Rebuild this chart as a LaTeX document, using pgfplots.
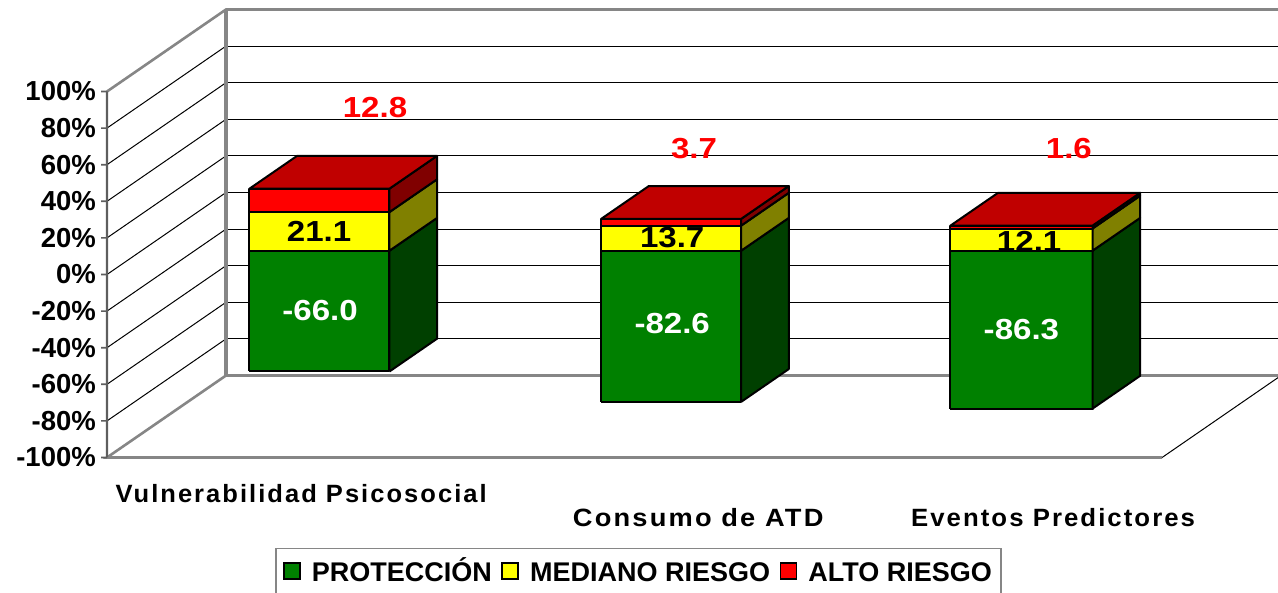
\documentclass[border=0pt]{standalone}
\usepackage{fontspec}
\setmainfont{Liberation Sans}
\newfontfamily\catfont[LetterSpace=8]{Liberation Sans}
\usepackage{pgfplots}
\pgfplotsset{compat=1.18}
\definecolor{gverde}{HTML}{008000}
\definecolor{gverdeo}{HTML}{004000}
\definecolor{gamar}{HTML}{FFFF00}
\definecolor{gamaro}{HTML}{808000}
\definecolor{grojo}{HTML}{FF0000}
\definecolor{grojoo}{HTML}{800000}
\definecolor{grojot}{HTML}{C00000}
\definecolor{marco}{HTML}{868686}
\definecolor{marcoo}{HTML}{5E5E5E}
% one stacked piece: x0, x1, z0, z1, front colour, side colour
\newcommand{\seg}[6]{%
  \addplot3[barface,fill=#5] coordinates {(#1,0.29,#3) (#2,0.29,#3) (#2,0.29,#4) (#1,0.29,#4) (#1,0.29,#3)};
  \addplot3[barface,fill=#6] coordinates {(#2,0.29,#3) (#2,0.69,#3) (#2,0.69,#4) (#2,0.29,#4) (#2,0.29,#3)};
}
\newcommand{\tapa}[3]{%
  \addplot3[barface,fill=grojot] coordinates {(#1,0.29,#3) (#2,0.29,#3) (#2,0.69,#3) (#1,0.69,#3) (#1,0.29,#3)};
}
% tick on the front edge, as a thin filled strip
\newcommand{\marca}[1]{%
  \addplot3[forget plot,no marks,draw=none,fill=marcoo] coordinates {(-0.017,0,#1-0.45) (0,0,#1-0.45) (0,0,#1+0.45) (-0.017,0,#1+0.45) (-0.017,0,#1-0.45)};
}
\pgfplotsset{
  barface/.style={forget plot,no marks,draw=black,line width=2pt,line join=round},
  muro/.style={forget plot,no marks,draw=marco,line width=2.6pt},
  fina/.style={forget plot,no marks,draw=black,line width=1pt},
  cuadro/.style={legend image code/.code={\draw[##1,line width=1.8pt] (0pt,-8pt) rectangle (16pt,8pt);}},
}
\begin{document}
\begin{tikzpicture}
\clip (-107pt,-318.5pt) rectangle (1171pt,274.5pt);
\begin{axis}[
  at={(0pt,0pt)}, anchor=origin,
  x={(351.7pt,0pt)}, y={(119pt,82pt)}, z={(0pt,1.83pt)},
  xmin=0, xmax=3, ymin=0, ymax=1, zmin=-100, zmax=100,
  xtick=\empty, ytick=\empty,
  ztick={-100,-80,-60,-40,-20,0,20,40,60,80,100},
  zticklabels={-100\%,-80\%,-60\%,-40\%,-20\%,0\%,20\%,40\%,60\%,80\%,100\%},
  zticklabel pos=left,
  zticklabel style={font=\fontsize{27.5}{28}\selectfont\bfseries,anchor=east,inner sep=0pt,xshift=-11pt,yshift=0pt},
  zmajorgrids,
  grid style={black,line width=1pt},
  axis line style={draw=none},
  major tick length=0pt,
  tick style={draw=none},
  clip=false,
  legend columns=3,
  legend cell align=left,
  legend style={at={(0.4527,-0.2009)},anchor=north,draw=marco,line width=1.6pt,
    font=\fontsize{27}{28}\selectfont\bfseries,inner xsep=7pt,inner ysep=8pt,
    nodes={text height=23pt,text depth=2pt},
    /tikz/every odd column/.append style={column sep=9pt},
    /tikz/every even column/.append style={column sep=7.5pt}},
]
% walls and floor
\addplot3[muro] coordinates {(0,0,100) (0,1,100) (3,1,100)};
\addplot3[muro,line width=3.2pt] coordinates {(0,1,100) (0,1,-100) (3,1,-100)};
\addplot3[muro] coordinates {(0,1,-100) (0,0,-100) (3,0,-100)};
\addplot3[fina] coordinates {(3,0,-100) (3,1,-100)};
% front edge and its ticks
\addplot3[forget plot,no marks,draw=none,fill=marcoo] coordinates {(-0.003,0,100) (0.003,0,100) (0.003,0,-100) (-0.003,0,-100) (-0.003,0,100)};
\marca{100}\marca{80}\marca{60}\marca{40}\marca{20}\marca{0}
\marca{-20}\marca{-40}\marca{-60}\marca{-80}\marca{-100}
% Vulnerabilidad Psicosocial
\seg{0.307}{0.705}{-66.0}{0}{gverde}{gverdeo}
\seg{0.307}{0.705}{0}{21.1}{gamar}{gamaro}
\seg{0.307}{0.705}{21.1}{33.9}{grojo}{grojoo}
\tapa{0.307}{0.705}{33.9}
% Consumo de ATD
\seg{1.307}{1.705}{-82.6}{0}{gverde}{gverdeo}
\seg{1.307}{1.705}{0}{13.7}{gamar}{gamaro}
\seg{1.307}{1.705}{13.7}{17.4}{grojo}{grojoo}
\tapa{1.307}{1.705}{17.4}
% Eventos Predictores
\seg{2.300}{2.704}{-86.3}{0}{gverde}{gverdeo}
\seg{2.300}{2.704}{0}{12.1}{gamar}{gamaro}
\seg{2.300}{2.704}{12.1}{13.7}{grojo}{grojoo}
\tapa{2.300}{2.704}{13.7}
% value labels
\begin{scope}[every node/.style={font=\fontsize{29}{30}\selectfont\bfseries,xscale=1.14}]
\node[white] at (axis cs:0.606,0,-19.5) {-66.0};
\node[white] at (axis cs:1.607,0,-27.0) {-82.6};
\node[white] at (axis cs:2.600,0,-30.3) {-86.3};
\node at (axis cs:0.603,0,23.8) {21.1};
\node at (axis cs:1.607,0,20.0) {13.7};
\node at (axis cs:2.622,0,18.0) {12.1};
\node[red] at (axis cs:0.762,0,91.5) {12.8};
\node[red] at (axis cs:1.669,0,69.0) {3.7};
\node[red] at (axis cs:2.735,0,69.0) {1.6};
\end{scope}
% category labels
\begin{scope}[every node/.style={font=\fontsize{25}{26}\selectfont\catfont\bfseries}]
\node[xscale=1.02] at (axis cs:0.552,0,-119.5) {Vulnerabilidad Psicosocial};
\node[xscale=1.09] at (axis cs:1.681,0,-133) {Consumo de ATD};
\node[xscale=1.03] at (axis cs:2.690,0,-133) {Eventos Predictores};
\end{scope}
\addlegendimage{cuadro,fill=gverde}
\addlegendentry{PROTECCIÓN}
\addlegendimage{cuadro,fill=gamar}
\addlegendentry{MEDIANO RIESGO}
\addlegendimage{cuadro,fill=grojo}
\addlegendentry{ALTO RIESGO}
\end{axis}
\end{tikzpicture}
\end{document}
